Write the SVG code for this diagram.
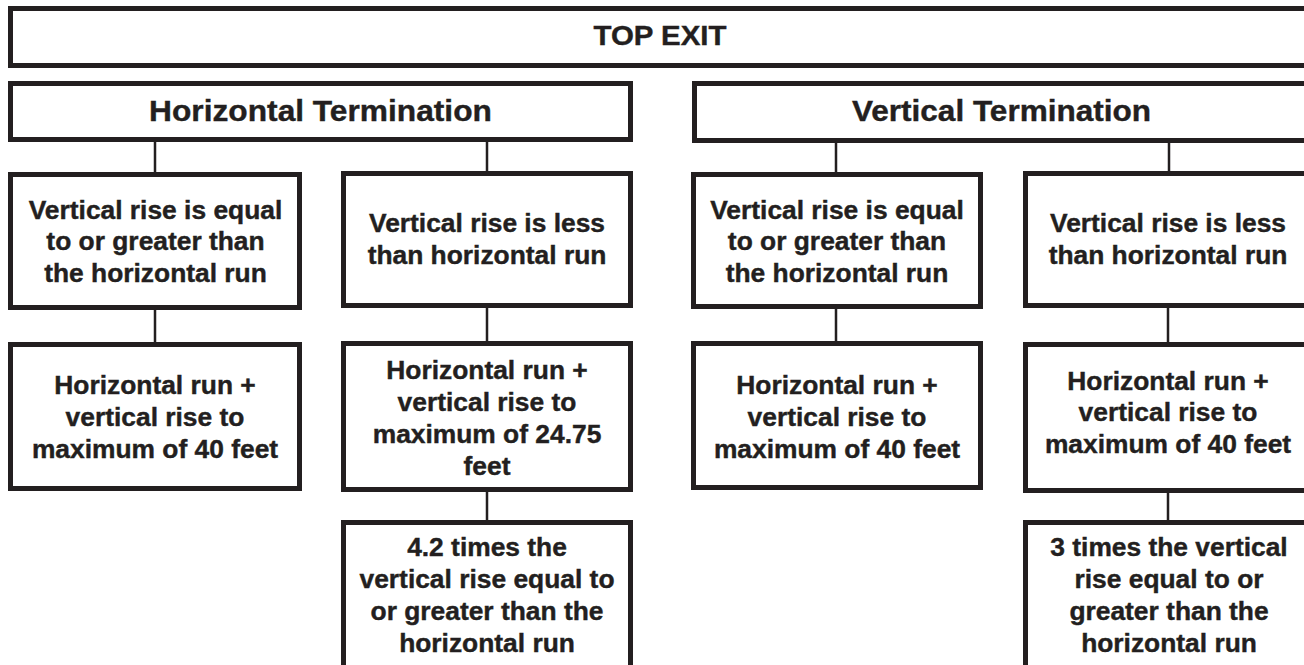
<svg xmlns="http://www.w3.org/2000/svg" width="1304" height="665" viewBox="0 0 1304 665">
<style>
.box{fill:#fff;stroke:#231f20;stroke-width:5}
.c{stroke:#231f20;stroke-width:2.5;fill:none}
text{font-family:"Liberation Sans",Arial,sans-serif;font-weight:bold;fill:#231f20;stroke:#231f20;stroke-width:0.4;text-anchor:middle}
.t0{font-size:27px}
.t1{font-size:29.5px}
.t2{font-size:25px}
</style>
<rect width="1304" height="665" fill="#fff"/>
<g id="connectors">
<path class="c" d="M155 142V172M487 142V171M836 143V172M1169 143V171M155 310V342M487 308V341M836 309V341M1168 308V342M487 492V520M1168 493V520"/>
</g>
<g id="top-exit">
<rect class="box" x="10.5" y="8.5" width="1310" height="57"/>
<text class="t0" transform="translate(660 0) scale(1.09 1)"><tspan x="0" y="45.5">TOP EXIT</tspan></text>
</g>
<g id="horizontal-termination">
<rect class="box" x="10.5" y="83.5" width="620" height="56"/>
<text class="t1" transform="translate(320.5 0) scale(1.075 1)"><tspan x="0" y="121.5">Horizontal Termination</tspan></text>
</g>
<g id="vertical-termination">
<rect class="box" x="694.5" y="83.5" width="700" height="57"/>
<text class="t1" transform="translate(1001.5 0) scale(1.07 1)"><tspan x="0" y="121.5">Vertical Termination</tspan></text>
</g>
<g id="h-rise-ge">
<rect class="box" x="10.5" y="174.5" width="289" height="133"/>
<text class="t2" transform="translate(155.5 0) scale(1.055 1)"><tspan x="0" y="219">Vertical rise is equal</tspan><tspan x="0" y="250.5">to or greater than</tspan><tspan x="0" y="282">the horizontal run</tspan></text>
</g>
<g id="h-rise-less">
<rect class="box" x="343.5" y="173.5" width="287" height="132"/>
<text class="t2" transform="translate(487 0) scale(1.055 1)"><tspan x="0" y="232.5">Vertical rise is less</tspan><tspan x="0" y="264">than horizontal run</tspan></text>
</g>
<g id="v-rise-ge">
<rect class="box" x="693.5" y="174.5" width="287" height="132"/>
<text class="t2" transform="translate(837 0) scale(1.055 1)"><tspan x="0" y="219">Vertical rise is equal</tspan><tspan x="0" y="250.5">to or greater than</tspan><tspan x="0" y="282">the horizontal run</tspan></text>
</g>
<g id="v-rise-less">
<rect class="box" x="1025.5" y="173.5" width="400" height="132"/>
<text class="t2" transform="translate(1168 0) scale(1.055 1)"><tspan x="0" y="232.5">Vertical rise is less</tspan><tspan x="0" y="264">than horizontal run</tspan></text>
</g>
<g id="h-max-40">
<rect class="box" x="10.5" y="344.5" width="289" height="144"/>
<text class="t2" transform="translate(155 0) scale(1.055 1)"><tspan x="0" y="394">Horizontal run +</tspan><tspan x="0" y="426">vertical rise to</tspan><tspan x="0" y="458">maximum of 40 feet</tspan></text>
</g>
<g id="h-max-2475">
<rect class="box" x="343.5" y="343.5" width="287" height="146"/>
<text class="t2" transform="translate(487 0) scale(1.055 1)"><tspan x="0" y="379">Horizontal run +</tspan><tspan x="0" y="411">vertical rise to</tspan><tspan x="0" y="443">maximum of 24.75</tspan><tspan x="0" y="475">feet</tspan></text>
</g>
<g id="v-max-40-a">
<rect class="box" x="693.5" y="343.5" width="287" height="144"/>
<text class="t2" transform="translate(837 0) scale(1.055 1)"><tspan x="0" y="394">Horizontal run +</tspan><tspan x="0" y="426">vertical rise to</tspan><tspan x="0" y="458">maximum of 40 feet</tspan></text>
</g>
<g id="v-max-40-b">
<rect class="box" x="1025.5" y="344.5" width="400" height="146"/>
<text class="t2" transform="translate(1168 0) scale(1.055 1)"><tspan x="0" y="390">Horizontal run +</tspan><tspan x="0" y="421.5">vertical rise to</tspan><tspan x="0" y="453">maximum of 40 feet</tspan></text>
</g>
<g id="h-42-times">
<rect class="box" x="343.5" y="522.5" width="287" height="200"/>
<text class="t2" transform="translate(487 0) scale(1.055 1)"><tspan x="0" y="556.5">4.2 times the</tspan><tspan x="0" y="588">vertical rise equal to</tspan><tspan x="0" y="620">or greater than the</tspan><tspan x="0" y="652">horizontal run</tspan></text>
</g>
<g id="v-3-times">
<rect class="box" x="1025.5" y="522.5" width="400" height="200"/>
<text class="t2" transform="translate(1169 0) scale(1.055 1)"><tspan x="0" y="556.5">3 times the vertical</tspan><tspan x="0" y="588">rise equal to or</tspan><tspan x="0" y="620">greater than the</tspan><tspan x="0" y="652">horizontal run</tspan></text>
</g>
</svg>
